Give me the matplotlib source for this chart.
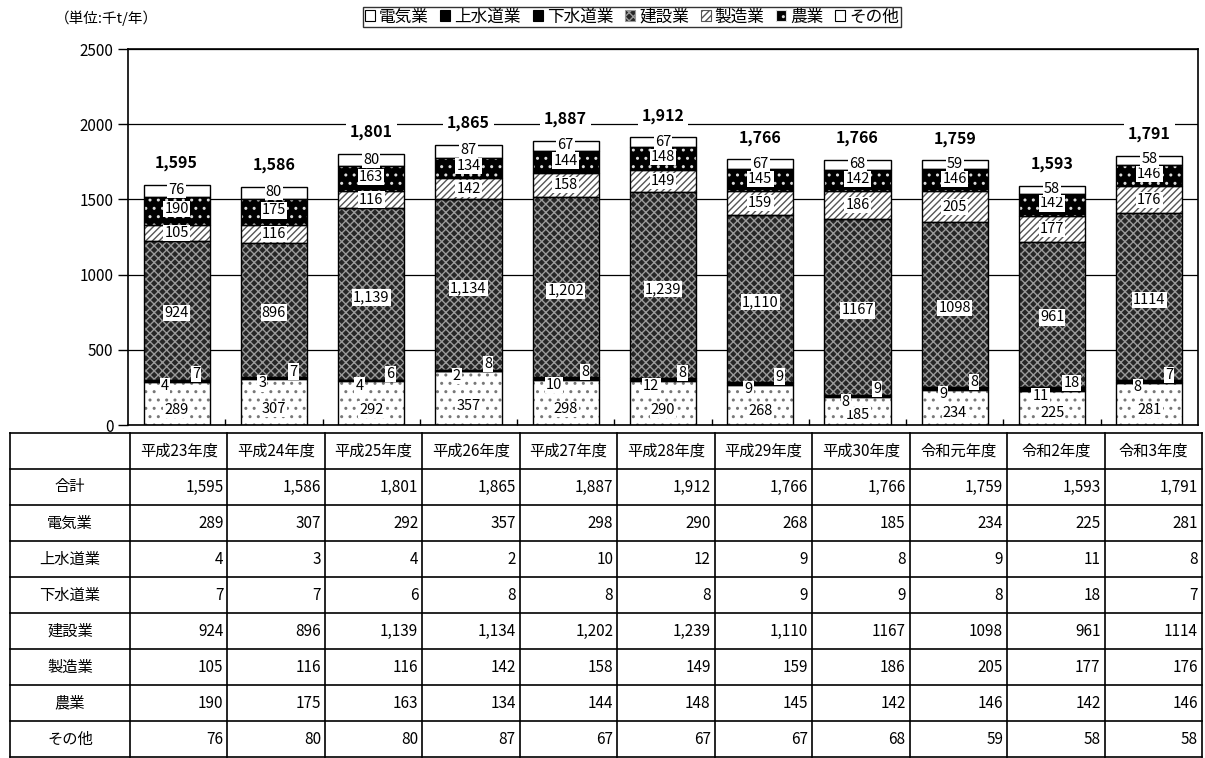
import numpy as np
import matplotlib
matplotlib.use("Agg")
import matplotlib.pyplot as plt
from matplotlib.patches import Patch

plt.rcParams['font.family'] = ['Noto Sans CJK JP', 'DejaVu Sans']
plt.rcParams['hatch.linewidth'] = 1.0

years = ['平成23年度', '平成24年度', '平成25年度', '平成26年度', '平成27年度', '平成28年度',
         '平成29年度', '平成30年度', '令和元年度', '令和2年度', '令和3年度']
total = [1595, 1586, 1801, 1865, 1887, 1912, 1766, 1766, 1759, 1593, 1791]
denki = [289, 307, 292, 357, 298, 290, 268, 185, 234, 225, 281]
jousui = [4, 3, 4, 2, 10, 12, 9, 8, 9, 11, 8]
gesui = [7, 7, 6, 8, 8, 8, 9, 9, 8, 18, 7]
kensetsu = [924, 896, 1139, 1134, 1202, 1239, 1110, 1167, 1098, 961, 1114]
seizou = [105, 116, 116, 142, 158, 149, 159, 186, 205, 177, 176]
nougyou = [190, 175, 163, 134, 144, 148, 145, 142, 146, 142, 146]
sonota = [76, 80, 80, 87, 67, 67, 67, 68, 59, 58, 58]
# 建設業 is shown without thousands separator from 平成30年度 on
kensetsu_txt = ['924', '896', '1,139', '1,134', '1,202', '1,239', '1,110', '1167', '1098', '961', '1114']

names = ['電気業', '上水道業', '下水道業', '建設業', '製造業', '農業', 'その他']
series = [denki, jousui, gesui, kensetsu, seizou, nougyou, sonota]
# face, hatch colour, hatch
styles = [('white', '#777777', '..'),
          ('black', 'black', ''),
          ('black', 'black', ''),
          ('#262626', '#9a9a9a', 'xxxx'),
          ('white', '#555555', '/////'),
          ('black', '#dddddd', '..'),
          ('white', 'white', '')]

W, H = 1205, 758
fig = plt.figure(figsize=(W / 100, H / 100), dpi=100)
ax = fig.add_axes([128 / W, (H - 425) / H, (1198 - 128) / W, (425 - 49) / H])

x = np.arange(len(years))
bw = 0.68
bottom = np.zeros(len(years))
bottoms = []
for vals, (fc, hc, hatch) in zip(series, styles):
    ax.bar(x, vals, bw, bottom=bottom, color=fc, edgecolor=hc, hatch=hatch, linewidth=0, zorder=2)
    ax.bar(x, vals, bw, bottom=bottom, fill=False, edgecolor='black', linewidth=1.0, zorder=3)
    bottoms.append(bottom.copy())
    bottom = bottom + np.array(vals)

box = dict(boxstyle='square,pad=0.08', fc='white', ec='none')
fs = 10.5
for i in range(len(years)):
    b = [bb[i] for bb in bottoms]
    ax.text(x[i], b[0] + denki[i] * 0.35, str(denki[i]), ha='center', va='center', fontsize=fs, bbox=box, zorder=5)
    ax.text(x[i] - 0.12, b[1] - 30, str(jousui[i]), ha='center', va='center', fontsize=fs, bbox=box, zorder=5)
    ax.text(x[i] + 0.2, b[2] + 45, str(gesui[i]), ha='center', va='center', fontsize=fs, bbox=box, zorder=5)
    ax.text(x[i], b[3] + kensetsu[i] * 0.48, kensetsu_txt[i], ha='center', va='center', fontsize=fs, bbox=box, zorder=5)
    ax.text(x[i], b[4] + seizou[i] / 2, str(seizou[i]), ha='center', va='center', fontsize=fs, bbox=box, zorder=5)
    ax.text(x[i], b[5] + nougyou[i] / 2 + 10, str(nougyou[i]), ha='center', va='center', fontsize=fs, bbox=box, zorder=5)
    ax.text(x[i], b[6] + sonota[i] / 2 + 5, str(sonota[i]), ha='center', va='center', fontsize=fs, bbox=box, zorder=5)
    ax.text(x[i], total[i] + 145, f'{total[i]:,}', ha='center', va='center', fontsize=11.5,
            fontweight='bold', bbox=dict(boxstyle='square,pad=0.25', fc='white', ec='none'), zorder=5)

ax.set_xlim(-0.5, len(years) - 0.5)
ax.set_ylim(0, 2500)
ax.set_yticks(range(0, 2501, 500))
ax.tick_params(axis='y', labelsize=11, length=7, width=1)
ax.set_xticks(np.arange(0.5, len(years) - 1, 1))
ax.set_xticklabels([])
ax.tick_params(axis='x', direction='in', length=4, width=1)
ax.yaxis.grid(True, color='black', linewidth=0.9, zorder=0)
ax.set_axisbelow(True)
for s in ax.spines.values():
    s.set_linewidth(1.2)

fig.text(55 / W, 1 - 18 / H, '（単位:千t/年）', fontsize=10.5, va='center', ha='left')

handles = [Patch(facecolor=fc, edgecolor=hc if hatch else 'black', hatch=hatch, linewidth=0.8)
           for fc, hc, hatch in styles]
handles[-1] = Patch(facecolor='white', edgecolor='black', linewidth=0.8)
handles[0] = Patch(facecolor='white', edgecolor='black', linewidth=0.8)
leg = fig.legend(handles, names, loc='center', bbox_to_anchor=(632 / W, 1 - 17 / H), ncol=7,
                 fontsize=12, frameon=True, fancybox=False, edgecolor='black',
                 handlelength=0.6, handleheight=0.6, handletextpad=0.25, columnspacing=0.7,
                 borderpad=0.1, borderaxespad=0)
leg.get_frame().set_linewidth(1.0)

# table below the chart
tax = fig.add_axes([0, 0, 1, (H - 432) / H])
tax.set_xlim(0, W)
tax.set_ylim(H, 432)
tax.axis('off')
x0, x1, xr = 10, 130, 1202
cw = (xr - x1) / len(years)
rows = [('合計', [f'{v:,}' for v in total]),
        ('電気業', [str(v) for v in denki]),
        ('上水道業', [str(v) for v in jousui]),
        ('下水道業', [str(v) for v in gesui]),
        ('建設業', kensetsu_txt),
        ('製造業', [str(v) for v in seizou]),
        ('農業', [str(v) for v in nougyou]),
        ('その他', [str(v) for v in sonota])]
ys = np.linspace(433, 757, len(rows) + 2)
for yy in ys:
    tax.plot([x0, xr], [yy, yy], color='black', lw=1.2)
for k in range(len(years) + 1):
    xx = x1 + k * cw
    tax.plot([xx, xx], [ys[0], ys[-1]], color='black', lw=1.2)
tax.plot([x0, x0], [ys[0], ys[-1]], color='black', lw=1.2)
tfs = 11
for k, yname in enumerate(years):
    tax.text(x1 + (k + 0.5) * cw, (ys[0] + ys[1]) / 2, yname, ha='center', va='center', fontsize=tfs)
for r, (label, vals) in enumerate(rows):
    yc = (ys[r + 1] + ys[r + 2]) / 2
    tax.text((x0 + x1) / 2, yc, label, ha='center', va='center', fontsize=tfs)
    for k, v in enumerate(vals):
        tax.text(x1 + (k + 1) * cw - 4, yc, v, ha='right', va='center', fontsize=tfs)

fig.savefig('out.png', dpi=100)
